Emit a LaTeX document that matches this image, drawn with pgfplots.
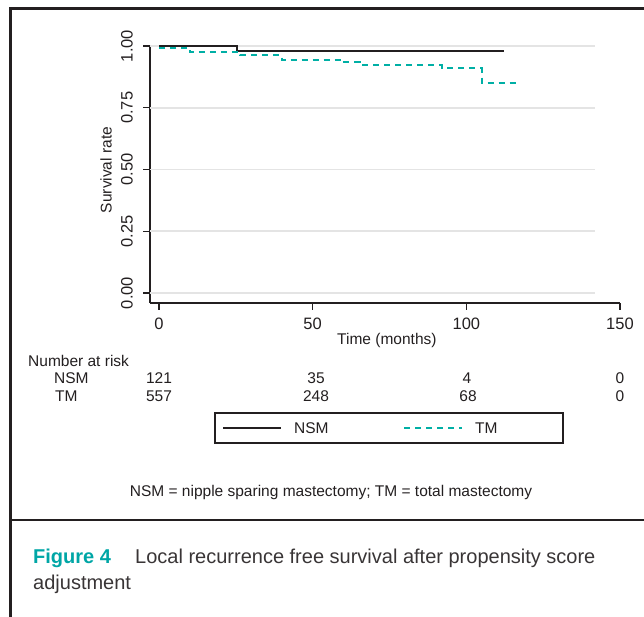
\documentclass[border=0pt]{standalone}
\usepackage{pgfplots}
\pgfplotsset{compat=1.18}
\usepackage{fontspec}
\setmainfont{Liberation Sans}
\definecolor{tealc}{RGB}{0,175,165}
\definecolor{capteal}{RGB}{0,166,166}
\definecolor{ink}{RGB}{35,31,32}
\definecolor{gridc}{RGB}{228,228,228}
\newcommand{\fs}{\fontsize{15.5}{18}\selectfont}
\newcommand{\ft}{\fontsize{16.5}{19}\selectfont}
\begin{document}
\begin{tikzpicture}[x=1pt,y=1pt]
\useasboundingbox (0,0) rectangle (644,617);
\draw[ink, line width=2.6pt] (644,608.5) -- (10.3,608.5) -- (10.3,0);
\draw[ink, line width=2.6pt] (10.3,97) -- (644,97);
\begin{axis}[
  at={(150pt,314pt)}, anchor=south west,
  scale only axis, width=470pt, height=257pt,
  xmin=-2.93, xmax=150, ymin=-0.0405, ymax=1,
  axis x line=bottom, axis y line=left,
  axis line style={-, line width=1.8pt, ink},
  clip=false,
  xtick={0,50,100,150},
  ytick={0,0.25,0.5,0.75,1},
  yticklabels={0.00,0.25,0.50,0.75,1.00},
  tick align=outside, major tick length=7pt,
  tick style={line width=1.3pt, ink},
  /pgf/number format/assume math mode=true,
  tick label style={font=\ft, text=ink},
  xticklabel style={anchor=base, inner sep=0pt, yshift=-20pt},
  yticklabel style={rotate=90, anchor=base, inner sep=0pt, yshift=10.5pt},
  xlabel={Time (months)},
  xlabel style={font=\fs, text=ink, at={(axis description cs:0.504,-0.1634)}, anchor=base, inner sep=0pt},
  ylabel={Survival rate},
  ylabel style={font=\fs, text=ink, at={(axis description cs:-0.0936,0.5175)}, anchor=center, inner sep=0pt},
  legend style={draw=none, fill=none, at={(axis description cs:0.1532,-0.4883)}, anchor=west,
    inner sep=0pt, font=\fs, text=ink, nodes={inner sep=0pt},
    legend columns=2,
    /tikz/every odd column/.append style={column sep=12pt}},
  legend image code/.code={\draw[#1] (0pt,0pt) -- (58pt,0pt);},
]
\draw[gridc, line width=1.8pt] (axis cs:-2.93,0) -- (axis cs:141.9,0);
\draw[gridc, line width=1.8pt] (axis cs:-2.93,0.25) -- (axis cs:141.9,0.25);
\draw[gridc, line width=1.8pt] (axis cs:-2.93,0.5) -- (axis cs:141.9,0.5);
\draw[gridc, line width=1.8pt] (axis cs:-2.93,0.75) -- (axis cs:141.9,0.75);
\draw[gridc, line width=1.8pt] (axis cs:-2.93,1) -- (axis cs:141.9,1);
\addplot[const plot, ink, line width=2pt] coordinates {
 (0,1) (25.4,0.980) (112.3,0.980)};
\addlegendentry{\makebox[109pt][l]{NSM}}
\addplot[const plot, tealc, line width=2pt, dash pattern=on 6pt off 5pt] coordinates {
 (0,0.991) (10.1,0.974) (26.4,0.962) (39.9,0.945) (59.4,0.935) (65.4,0.923) (92,0.911) (105,0.852) (116.5,0.852)};
\addlegendentry{TM}
\end{axis}
\draw[ink, line width=1.6pt] (215,204) rectangle (563,174);
\begin{scope}[every node/.style={font=\fs, text=ink, inner sep=0pt}]
\node[anchor=base west] at (28,250) {Number at risk};
\node[anchor=base west] at (54,233) {NSM};
\node[anchor=base west] at (55,215) {TM};
\node[anchor=base] at (159,233) {121};
\node[anchor=base] at (316,233) {35};
\node[anchor=base] at (467,233) {4};
\node[anchor=base] at (620,233) {0};
\node[anchor=base] at (159,215) {557};
\node[anchor=base] at (316,215) {248};
\node[anchor=base] at (468,215) {68};
\node[anchor=base] at (620,215) {0};
\node[anchor=base] at (331,120) {NSM = nipple sparing mastectomy; TM = total mastectomy};
\end{scope}
\begin{scope}[every node/.style={font=\fontsize{20}{24}\selectfont, inner sep=0pt}]
\node[anchor=base west, text=capteal] at (33,53) {\bfseries Figure 4};
\node[anchor=base west, text=ink!90] at (135,53) {Local recurrence free survival after propensity score};
\node[anchor=base west, text=ink!90] at (33,27) {adjustment};
\end{scope}
\end{tikzpicture}
\end{document}
